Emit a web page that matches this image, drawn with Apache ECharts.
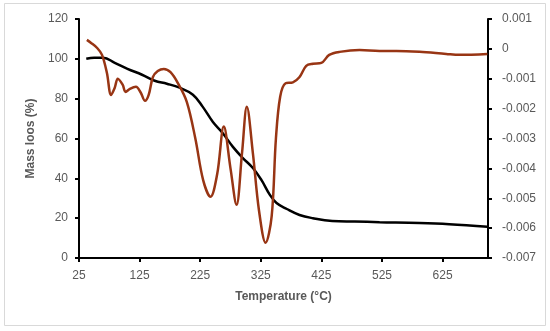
<!DOCTYPE html>
<html><head><meta charset="utf-8">
<script src="https://cdn.jsdelivr.net/npm/echarts@6/dist/echarts.min.js"></script>
<style>html,body{margin:0;padding:0;background:#fff}#c{width:550px;height:331px}</style>
</head><body><div id="c"></div>
<script>
// Temperature (°C) and mass (%) for TGA curve
const tgaTemp = [37,50,65,84,105,129,150,170,191,213,229,246,262,279,295,312,326,340,351,368,389,411,443,480,521,587,636,699];
const tgaMass = [100,100.5,100.5,98,95,92,89,87.5,85.5,82,76,68.3,62.8,55.8,50.3,45.2,39.2,31.7,27.6,24.6,21.6,20,18.6,18.3,18,17.6,17,15.7];
// Temperature (°C) and DTG values for derivative curve
const dtgTemp = [38,45,55,63,71,78,84,89,97,102,109,119,127,134,140,147,155,165,176,188,203,217,230,242,253,264,275,285,294,302,312,322,333,343,350,357,366,378,389,400,411,425,438,455,488,521,549,587,631,653,699];
const dtgVal = [0.0003,0.0002,0.00003,-0.0002,-0.0008,-0.00154,-0.0013,-0.001,-0.0012,-0.00144,-0.00134,-0.00127,-0.00147,-0.00174,-0.00154,-0.00094,-0.00074,-0.00067,-0.00078,-0.00114,-0.00178,-0.003,-0.0044,-0.00495,-0.0042,-0.0026,-0.004,-0.00522,-0.0035,-0.00194,-0.0035,-0.0054,-0.00649,-0.0056,-0.003,-0.0016,-0.00115,-0.00112,-0.00094,-0.00057,-0.0005,-0.00047,-0.0002,-0.0001,-0.00004,-0.00007,-0.00007,-0.0001,-0.00017,-0.0002,-0.00017];
const xTicks = [25,125,225,325,425,525,625];
const xTitle = 'Temperature (°C)';
const yTitle = 'Mass loos (%)';

const font = 'Liberation Sans, Arial, sans-serif';
const gray = '#595959';
const chart = echarts.init(document.getElementById('c'));
chart.setOption({
  animation: false,
  backgroundColor: '#fff',
  graphic: [{type:'rect', shape:{x:4.5,y:3.5,width:541,height:322}, style:{fill:'none', stroke:'#d9d9d9', lineWidth:1}, silent:true, z:-1}],
  grid: {left:79, right:62, top:19, bottom:73},
  xAxis: {
    type:'value', min:25, max:700,
    name: xTitle, nameLocation:'middle', nameGap:33,
    nameTextStyle:{color:gray, fontFamily:font, fontSize:12, fontWeight:'bold'},
    axisLine:{lineStyle:{color:'#000', width:2}},
    axisTick:{show:true, customValues:xTicks, length:4, lineStyle:{color:'#000', width:2}},
    axisLabel:{customValues:xTicks, color:gray, fontFamily:font, fontSize:12, margin:12},
    splitLine:{show:false}
  },
  yAxis: [{
    type:'value', min:0, max:120, interval:20,
    name: yTitle, nameLocation:'middle', nameGap:40, nameRotate:90,
    nameTextStyle:{color:gray, fontFamily:font, fontSize:12, fontWeight:'bold'},
    axisLine:{show:true, lineStyle:{color:'#000', width:2}},
    axisTick:{show:true, length:4, lineStyle:{color:'#000', width:2}},
    axisLabel:{color:gray, fontFamily:font, fontSize:12, margin:11},
    splitLine:{show:false}
  },{
    type:'value', min:-0.007, max:0.001, interval:0.001, position:'right',
    axisLine:{show:true, lineStyle:{color:'#000', width:2}},
    axisTick:{show:true, length:4, lineStyle:{color:'#000', width:2}},
    axisLabel:{color:gray, fontFamily:font, fontSize:12, margin:14,
      formatter: v => String(Math.round(v*1000)/1000)},
    splitLine:{show:false}
  }],
  series: [{
    type:'line', yAxisIndex:0, smooth:0.4, symbol:'none',
    lineStyle:{color:'#000', width:2.5},
    data: tgaTemp.map((t,i)=>[t,tgaMass[i]])
  },{
    type:'line', yAxisIndex:1, smooth:0.35, symbol:'none',
    lineStyle:{color:'#983514', width:2.5},
    data: dtgTemp.map((t,i)=>[t,dtgVal[i]])
  }]
});
</script></body></html>
